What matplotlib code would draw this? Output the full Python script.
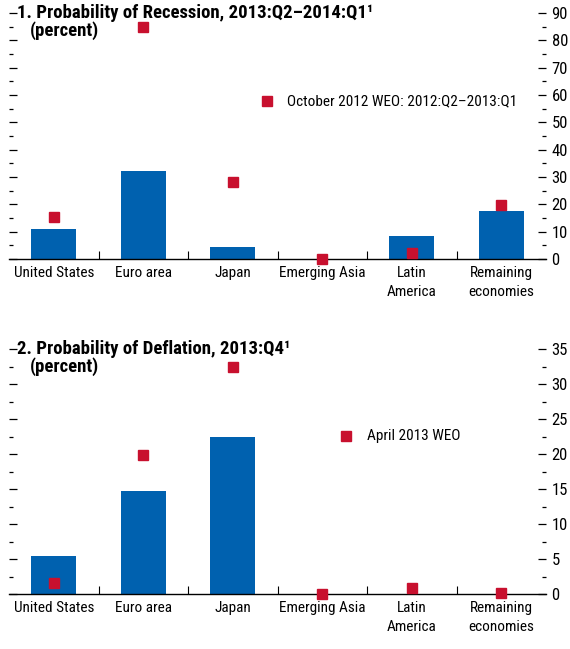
import matplotlib.pyplot as plt
from matplotlib import font_manager
from matplotlib.ticker import MultipleLocator

categories = ["United States", "Euro area", "Japan", "Emerging Asia",
              "Latin\nAmerica", "Remaining\neconomies"]

recession_now = [11.0, 32.2, 4.4, 0.0, 8.4, 17.6]
recession_prev = [15.4, 84.9, 28.2, 0.0, 2.2, 19.8]

deflation_now = [5.5, 14.7, 22.5, 0.0, 0.0, 0.0]
deflation_prev = [1.6, 19.9, 32.4, 0.0, 0.9, 0.2]

BAR = "#0061AF"
DOT = "#C8102E"

# pick the narrowest family that is installed
installed = {f.name for f in font_manager.fontManager.ttflist}
narrow = [n for n in ["Liberation Sans Narrow", "Roboto Condensed",
                      "Open Sans Condensed", "Roboto"] if n in installed]
plt.rcParams["font.family"] = narrow[:1] + ["DejaVu Sans"]
FS = 11
TS = 13.5


def panel(ax, now, prev, ymax, major, legend_label, leg_x, leg_y):
    x = range(len(categories))
    ax.bar(x, now, width=0.5, color=BAR, zorder=2)
    ax.plot(x, prev, "s", color=DOT, markersize=7.5, zorder=3, clip_on=False)
    ax.set_xlim(-0.5, len(categories) - 0.5)
    ax.set_ylim(0, ymax)
    for s in ["top", "left", "right"]:
        ax.spines[s].set_visible(False)
    ax.spines["bottom"].set_linewidth(1.0)
    ax.set_xticks(list(x))
    ax.set_xticklabels(categories, fontsize=FS, linespacing=1.45)
    ax.tick_params(axis="x", length=0, pad=5)
    # category separators
    ax.set_xticks([i + 0.5 for i in range(len(categories) - 1)], minor=True)
    ax.tick_params(axis="x", which="minor", direction="in", length=6, width=0.8)
    ax.yaxis.set_major_locator(MultipleLocator(major))
    ax.yaxis.set_minor_locator(MultipleLocator(major / 2))
    ax.tick_params(axis="y", which="both", direction="in", left=True, right=True,
                   labelleft=False, labelright=True, labelsize=12, pad=4)
    ax.tick_params(axis="y", which="major", length=6, width=0.9)
    ax.tick_params(axis="y", which="minor", length=3, width=0.9)
    ax.plot([leg_x], [leg_y], "s", color=DOT, markersize=7.5,
            transform=ax.transAxes, clip_on=False)
    ax.text(leg_x + 0.038, leg_y, legend_label, transform=ax.transAxes,
            va="center", ha="left", fontsize=FS)


fig = plt.figure(figsize=(5.7, 6.49), dpi=100)
ax1 = fig.add_axes([9 / 570, 1 - 259 / 649, 537 / 570, 246 / 649])
ax2 = fig.add_axes([9 / 570, 1 - 594 / 649, 537 / 570, 245 / 649])

panel(ax1, recession_now, recession_prev, 90, 10,
      "October 2012 WEO: 2012:Q2\u20132013:Q1", 0.480, 0.642)
panel(ax2, deflation_now, deflation_prev, 35, 5,
      "April 2013 WEO", 0.628, 0.645)

fig.text(17 / 570, 1 - 13 / 649,
         "1. Probability of Recession, 2013:Q2\u20132014:Q1\u00b9",
         fontsize=TS, fontweight="bold", va="center", ha="left")
fig.text(30 / 570, 1 - 31 / 649, "(percent)",
         fontsize=TS, fontweight="bold", va="center", ha="left")
fig.text(17 / 570, 1 - 349 / 649,
         "2. Probability of Deflation, 2013:Q4\u00b9",
         fontsize=TS, fontweight="bold", va="center", ha="left")
fig.text(30 / 570, 1 - 367 / 649, "(percent)",
         fontsize=TS, fontweight="bold", va="center", ha="left")

fig.savefig("out.png", dpi=100)
